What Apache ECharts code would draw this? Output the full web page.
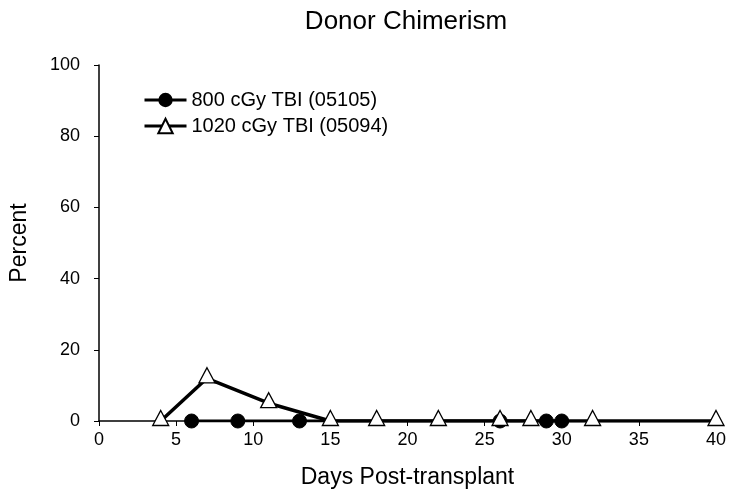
<!DOCTYPE html>
<html>
<head>
<meta charset="utf-8">
<script src="https://cdn.jsdelivr.net/npm/echarts@6/dist/echarts.min.js"></script>
<style>
  html, body { margin: 0; padding: 0; background: #fff; }
  #main { width: 739px; height: 503px; }
</style>
</head>
<body>
<div id="main"></div>
<script>
// day post-transplant, percent donor
var days800 = [6, 9, 13, 26, 29, 30];
var pct800 = [0, 0, 0, 0, 0, 0];
var days1020 = [4, 7, 11, 15, 18, 22, 26, 28, 32, 40];
var pct1020 = [0, 12, 5, 0, 0, 0, 0, 0, 0, 0];
var seriesNames = ["800 cGy TBI (05105)", "1020 cGy TBI (05094)"];

function pairs(xs, ys) {
  return xs.map(function (x, i) { return [x, ys[i]]; });
}

var font = "Liberation Sans, Arial, sans-serif";
var chart = echarts.init(document.getElementById("main"), null, { renderer: "canvas" });

chart.setOption({
  animation: false,
  title: {
    text: "Donor Chimerism",
    left: 401, textAlign: "center", top: 4,
    textStyle: { fontFamily: font, fontSize: 26, fontWeight: "normal", color: "#000" }
  },
  legend: {
    orient: "vertical",
    left: 138, top: 85,
    itemWidth: 42, itemHeight: 18, itemGap: 6,
    lineStyle: { width: 3 },
    textStyle: { fontFamily: font, fontSize: 20, color: "#000" },
    data: seriesNames
  },
  grid: { left: 99, right: 23, top: 65, bottom: 82 },
  xAxis: {
    type: "value", min: 0, max: 40, interval: 5,
    name: "Days Post-transplant", nameLocation: "middle", nameGap: 45,
    nameTextStyle: { fontFamily: font, fontSize: 23, color: "#000" },
    axisLine: { onZero: false, lineStyle: { color: "#000", width: 1.5 } },
    axisTick: { inside: false, length: 5, lineStyle: { color: "#000" } },
    axisLabel: { fontFamily: font, fontSize: 18, color: "#000", margin: 10 },
    splitLine: { show: false }
  },
  yAxis: {
    type: "value", min: 0, max: 100, interval: 20,
    name: "Percent", nameLocation: "middle", nameGap: 68,
    nameTextStyle: { fontFamily: font, fontSize: 23, color: "#000" },
    axisLine: { show: true, lineStyle: { color: "#000", width: 1.5 } },
    axisTick: { show: true, inside: false, length: 5, lineStyle: { color: "#000" } },
    axisLabel: { fontFamily: font, fontSize: 18, color: "#000", margin: 19 },
    splitLine: { show: false }
  },
  series: [
    {
      name: seriesNames[0],
      type: "line",
      data: pairs(days800, pct800),
      symbol: "circle", symbolSize: 14,
      itemStyle: { color: "#000", borderColor: "#000" },
      lineStyle: { color: "#000", width: 3 },
      z: 3
    },
    {
      name: seriesNames[1],
      type: "line",
      data: pairs(days1020, pct1020),
      symbol: "triangle", symbolSize: [16, 15], symbolOffset: [0, -3],
      itemStyle: { color: "#fff", borderColor: "#000", borderWidth: 1.3 },
      lineStyle: { color: "#000", width: 3.5 },
      z: 4
    }
  ]
});
</script>
</body>
</html>
